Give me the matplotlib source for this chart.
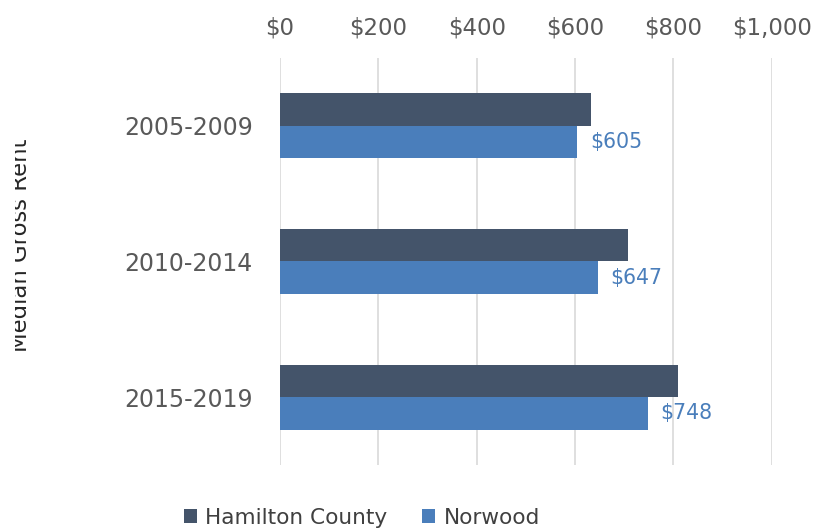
import numpy as np
import matplotlib.pyplot as plt
from matplotlib.transforms import Bbox

# median gross rent by ACS period
periods = ['2005-2009', '2010-2014', '2015-2019']
hamilton = [632, 707, 809]
norwood = [605, 647, 748]
ticks = [0, 200, 400, 600, 800, 1000]
tick_labels = ['$0', '$200', '$400', '$600', '$800', '$1,000']

dark = '#44546A'
blue = '#4A7EBB'
gray = '#595959'

plt.rcParams['font.family'] = ['DejaVu Sans']

fig = plt.figure(figsize=(8.14, 5.31), dpi=100)
ax = fig.add_axes([0.344, 0.1243, 0.604, 0.7665])

y = np.arange(len(periods))
h = 0.24
ax.barh(y - h / 2, hamilton, height=h, color=dark, label='Hamilton County', zorder=3)
bars = ax.barh(y + h / 2, norwood, height=h, color=blue, label='Norwood', zorder=3)

for b, v in zip(bars, norwood):
    ax.annotate(f'${v}', (v, b.get_y() + b.get_height() / 2), xytext=(9, 0),
                textcoords='offset points', va='center', ha='left',
                color=blue, fontsize=14.8)

ax.set_xlim(0, 1000)
ax.set_ylim(2.5, -0.5)
ax.set_xticks(ticks)
ax.set_xticklabels(tick_labels)
ax.set_yticks(y)
ax.set_yticklabels(periods)
ax.xaxis.tick_top()
ax.tick_params(axis='x', length=0, pad=13.5, labelsize=16.5, labelcolor=gray)
ax.tick_params(axis='y', length=0, pad=19.5, labelsize=17, labelcolor=gray)
ax.grid(axis='x', color='#D9D9D9', linewidth=1.2, zorder=0)
for s in ax.spines.values():
    s.set_visible(False)

# axis title sits partly outside the left edge
t = fig.text(32 / 814, 1 - 245 / 531, 'Median Gross Rent', rotation=90,
             ha='right', va='center', fontsize=16.4, color='#262626')
t.set_clip_box(Bbox([[15, 0], [814, 531]]))

fig.legend(loc='center', bbox_to_anchor=(362 / 814, 1 - 518 / 531), ncol=2,
           frameon=False, fontsize=15.6, labelcolor='#404040', handlelength=0.6,
           handleheight=0.6, handletextpad=0.4, columnspacing=1.6)

fig.savefig('out.png', dpi=100)
